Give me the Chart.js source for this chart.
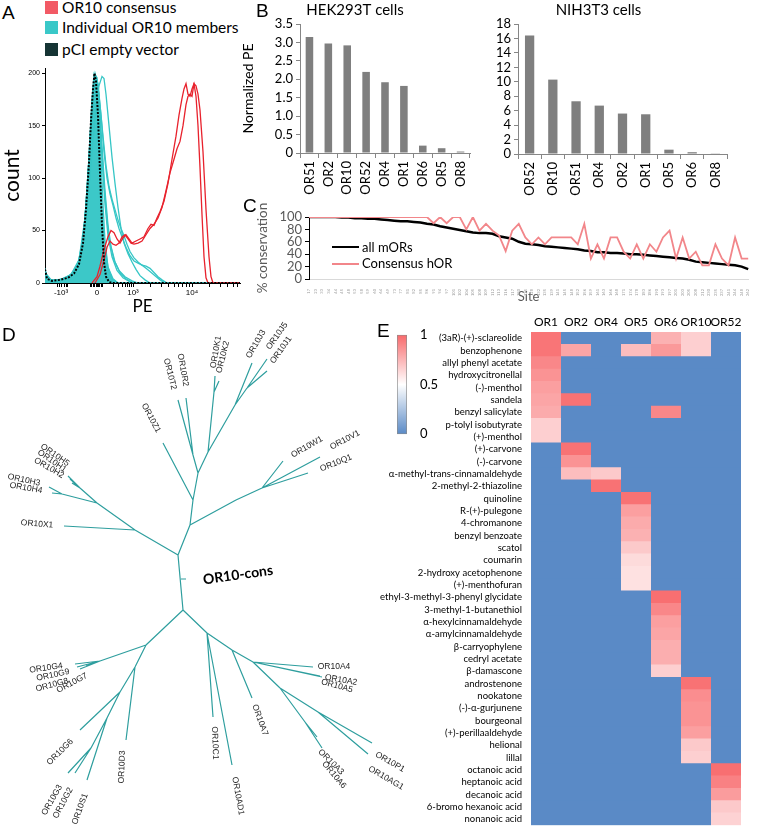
<!DOCTYPE html>
<html><head><meta charset="utf-8">
<script src="https://cdn.jsdelivr.net/npm/chart.js@4.4.1/dist/chart.umd.min.js"></script>
<style>
body{margin:0;background:#fff;}
#wrap{position:relative;width:757px;height:832px;overflow:hidden;font-family:Lato,sans-serif;color:#000;}
canvas{position:absolute;}
.pl{position:absolute;font-family:"Liberation Sans",Arial,sans-serif;font-size:19px;line-height:1;}
.lg{position:absolute;font-family:Lato,sans-serif;font-size:15.5px;line-height:1;white-space:nowrap;}
.sq{position:absolute;width:13px;height:13px;}
.lc{position:absolute;font-family:Lato,sans-serif;font-size:13px;line-height:1;white-space:nowrap;}
.ln{position:absolute;height:0;}
</style></head><body><div id="wrap">
<canvas id="cA" width="242" height="262" style="left:0;top:58px"></canvas>
<canvas id="cB1" width="270" height="205" style="left:240px;top:0"></canvas>
<canvas id="cB2" width="284" height="205" style="left:470px;top:0"></canvas>
<canvas id="cC" width="500" height="110" style="left:255px;top:195px"></canvas>
<canvas id="cD" width="490" height="522" style="left:0;top:310px"></canvas>
<canvas id="cE" width="377" height="522" style="left:380px;top:310px"></canvas>
<canvas id="cBar" width="55" height="125" style="left:385px;top:322px"></canvas>

<div class="pl" style="left:2px;top:3px">A</div>
<div class="pl" style="left:256px;top:1px">B</div>
<div class="pl" style="left:243px;top:196px">C</div>
<div class="pl" style="left:2px;top:325px">D</div>
<div class="pl" style="left:377px;top:321px">E</div>

<div class="sq" style="left:45px;top:1px;background:#F25A65"></div>
<div class="lg" style="left:62px;top:0px">OR10 consensus</div>
<div class="sq" style="left:45px;top:21px;background:#3AC8C8"></div>
<div class="lg" style="left:62px;top:20px">Individual OR10 members</div>
<div class="sq" style="left:45px;top:43px;background:#153434"></div>
<div class="lg" style="left:62px;top:42px">pCI empty vector</div>

<div class="ln" style="left:332px;top:246px;width:27px;border-top:2.5px solid #000"></div>
<div class="lc" style="left:362px;top:241px">all mORs</div>
<div class="ln" style="left:332px;top:263px;width:27px;border-top:2px solid #F2868A"></div>
<div class="lc" style="left:362px;top:257px">Consensus hOR</div>
</div>
<script>
// ================= Panel A : flow cytometry histograms =================
const peMajorTicks = [61, 97, 133, 192];
const peMajorLabels = ['-10³', '0', '10³', '10⁴'];
const peMinorTicks = [57,59,64,66,67.5,90,91.5,93,94.5,96,98,99.5,101,102.5,113,118,122,125,127.5,129.5,131,150.8,161.2,168.5,174.2,178.9,182.9,186.3,189.3,209.8,220.2,227.5,233.2,237.9];
const countTicks = [0,50,100,150,200];
const emptyVector = [[45,13],[47,4],[52,2],[60,3],[68,5],[74,9],[79,18],[83,38],[86,70],[89,115],[91,155],[93,185],[94.5,200],[96,192],[98,160],[100,105],[102,55],[104,20],[106,6],[109,1],[112,0],[240,0]];
const consensusRun1 = [[92,0],[97,6],[100,16],[104,32],[108,44],[111,50],[114,48],[117,42],[120,38],[123,43],[126,46],[129,42],[132,38],[136,40],[140,42],[144,44],[148,52],[151,56],[154,55],[157,62],[160,68],[164,78],[168,95],[172,118],[176,140],[179,160],[182,176],[184,185],[186,190],[188,180],[190,178],[192,185],[194,190],[196,178],[198,150],[200,110],[202,65],[204,25],[206,5],[208,0],[240,0]];
const consensusRun2 = [[95,0],[100,8],[104,22],[107,34],[110,40],[113,37],[116,36],[119,38],[122,44],[125,46],[128,42],[131,38],[134,37],[138,38],[142,40],[146,46],[150,52],[154,56],[158,62],[162,72],[166,88],[170,105],[174,118],[177,128],[180,135],[183,150],[186,170],[188,178],[190,180],[192,178],[194,190],[196,188],[198,180],[200,165],[203,125],[206,70],[209,25],[211,6],[213,0],[240,0]];
const member1 = [[45,14],[47,5],[52,2],[60,3],[66,5],[72,9],[77,15],[81,28],[84,50],[87,85],[90,135],[92,170],[94,195],[95,200],[97,192],[99,165],[101,120],[103,75],[105,40],[108,15],[112,4],[118,0],[240,0]];
const member2 = [[45,10],[48,3],[55,2],[65,4],[73,9],[79,20],[84,45],[88,80],[92,125],[96,168],[99,188],[102,197],[104,195],[106,180],[109,150],[112,120],[115,95],[118,72],[121,52],[124,38],[128,28],[132,20],[136,13],[140,7],[145,3],[150,0],[240,0]];
const member3 = [[45,8],[50,2],[60,3],[70,6],[78,16],[83,40],[87,80],[91,140],[94,185],[96,195],[98,190],[100,170],[103,140],[106,112],[109,92],[112,80],[115,70],[118,60],[121,52],[124,45],[127,37],[130,30],[134,24],[138,20],[142,17],[146,16],[150,14],[154,10],[158,6],[162,3],[167,0],[240,0]];
const member4 = [[45,9],[50,2],[60,3],[70,6],[78,17],[83,42],[87,85],[91,145],[94,188],[96,196],[98,188],[101,160],[104,125],[107,100],[110,85],[113,74],[116,62],[119,52],[122,44],[126,34],[130,26],[134,21],[138,19],[142,17],[146,14],[150,11],[155,7],[160,3],[165,0],[240,0]];
const member5 = [[45,11],[49,3],[58,2],[68,5],[76,12],[82,30],[86,65],[89,115],[92,165],[94,192],[96,196],[98,180],[101,140],[104,95],[107,60],[110,38],[114,22],[119,12],[125,6],[132,2],[138,0],[240,0]];
const member6 = [[45,12],[48,4],[56,2],[66,5],[74,10],[80,24],[85,60],[89,120],[92,175],[94,198],[96,190],[98,160],[100,115],[102,70],[105,35],[108,15],[113,4],[118,0],[240,0]];
const member7 = [[45,9],[50,3],[60,3],[70,7],[78,18],[84,48],[88,100],[91,155],[93,185],[95,197],[97,190],[99,168],[102,120],[105,75],[108,45],[112,25],[117,12],[123,5],[130,1],[135,0],[240,0]];
const member8 = [[45,10],[52,2],[62,4],[71,8],[79,22],[85,62],[89,118],[92,168],[95,198],[97,196],[99,178],[102,130],[105,88],[108,55],[111,35],[115,20],[120,10],[126,4],[133,0],[240,0]];

// ================= Panel B : normalized PE =================
const hekReceptors = ['OR51','OR2','OR10','OR52','OR4','OR1','OR6','OR5','OR8'];
const hekValues = [3.15,2.97,2.92,2.2,1.92,1.82,0.2,0.13,0.04];
const hekTicks = [0,0.5,1,1.5,2,2.5,3,3.5];
const nihReceptors = ['OR52','OR10','OR51','OR4','OR2','OR1','OR5','OR6','OR8'];
const nihValues = [16.4,10.3,7.3,6.7,5.6,5.5,0.6,0.25,0.1];
const nihTicks = [0,2,4,6,8,10,12,14,16,18];

// ================= Panel C : conservation per site =================
const siteLabels = [17,23,33,34,44,45,48,53,58,59,60,64,69,73,77,81,82,85,86,91,94,97,101,102,104,105,108,109,112,113,116,117,120,125,128,132,135,139,141,145,148,152,156,159,161,163,166,168,171,174,178,183,186,190,193,197,201,203,205,208,212,230,235,237,241,244,248,262];
const allMors = [100,100,100,100,100,99,99,98,98,97,97,96,95,94,93,93,92,91,89,88,85,83,81,79,77,75,74,74,73,69,67,65,60,57,56,55,53,52,51,50,49,48,46,45,43,43,42,42,41,40,40,39,38,37,36,35,34,33,31,28,27,26,25,24,23,22,20,16];
const consensusHor = [100,100,100,100,100,100,100,100,100,100,100,100,100,100,100,100,100,100,100,90,100,90,100,100,80,100,78,89,78,70,45,78,89,67,56,67,56,67,67,67,67,56,89,33,56,33,67,67,44,33,56,33,56,44,67,78,33,67,33,44,22,22,56,33,22,67,33,33];
const conservationTicks = [0,20,40,60,80,100];

// ================= Panel D : OR10 tree =================
const treeNodes = {
  root:[178,555], n1:[190,525], nW1:[236,500], nW2:[262,488],
  OR10W1:[283,461], OR10V1:[320,457], OR10Q1:[308,473],
  n2:[193,500], OR10Z1:[163,443], n3:[198,473], nTR:[193,455], OR10T2:[178,400], OR10R2:[186,398],
  nK:[208,452], nK2:[214,392], OR10K1:[215,376], OR10K2:[219,381],
  nJ:[235,405], OR10J3:[252,363], nJ2:[247,388], OR10J5:[267,359], OR10J1:[267,371],
  nX:[135,530], OR10X1:[64,526], nH:[97,503], nHa:[80,488], OR10H5:[68,476], OR10H1:[70,479], OR10H2:[72,483],
  nHb:[62,494], OR10H3:[49,487], OR10H4:[52,493],
  nLow:[183,610], consBase:[181,579], cons:[186,579],
  nG:[146,645], nGc:[100,661], OR10G4:[75,664], OR10G9:[77,667], OR10G8:[80,669], OR10G7:[86,666],
  nD:[135,667], OR10D3:[126,740], nG6:[120,692], OR10G6:[80,730], nGS:[107,718], OR10S1:[87,780],
  nG32:[91,748], OR10G3:[68,773], OR10G2:[75,773],
  nC:[207,633], OR10C1:[213,717], OR10AD1:[232,765], nA:[232,650], OR10A7:[252,698],
  nA4:[253,662], OR10A4:[313,667], OR10A2:[322,677], OR10A5:[320,676],
  nAx:[280,688], nA36:[305,722], OR10A3:[317,737], OR10A6:[322,748], nP:[318,712], OR10P1:[372,743], OR10AG1:[368,754]
};
const treeEdges = [
  ['root','n1'],['n1','nW1'],['nW1','nW2'],['nW2','OR10W1'],['nW2','OR10V1'],['nW2','OR10Q1'],
  ['n1','n2'],['n2','OR10Z1'],['n2','n3'],['n3','nTR'],['nTR','OR10T2'],['nTR','OR10R2'],
  ['n3','nK'],['nK','nK2'],['nK2','OR10K1'],['nK2','OR10K2'],['nK','nJ'],['nJ','OR10J3'],['nJ','nJ2'],['nJ2','OR10J5'],['nJ2','OR10J1'],
  ['root','nX'],['nX','OR10X1'],['nX','nH'],['nH','nHa'],['nHa','OR10H5'],['nHa','OR10H1'],['nHa','OR10H2'],['nH','nHb'],['nHb','OR10H3'],['nHb','OR10H4'],
  ['root','nLow'],['consBase','cons'],
  ['nLow','nG'],['nG','nGc'],['nGc','OR10G4'],['nGc','OR10G9'],['nGc','OR10G8'],['nGc','OR10G7'],
  ['nG','nD'],['nD','OR10D3'],['nD','nG6'],['nG6','OR10G6'],['nG6','nGS'],['nGS','OR10S1'],['nGS','nG32'],['nG32','OR10G3'],['nG32','OR10G2'],
  ['nLow','nC'],['nC','OR10C1'],['nC','OR10AD1'],['nC','nA'],['nA','OR10A7'],['nA','nA4'],['nA4','OR10A4'],['nA4','OR10A2'],['nA4','OR10A5'],
  ['nA4','nAx'],['nAx','nA36'],['nA36','OR10A3'],['nA36','OR10A6'],['nAx','nP'],['nP','OR10P1'],['nP','OR10AG1']
];
// label anchor (tree units) and rotation in degrees
const treeLabelLayout = [
  ['OR10K1',216,352,-80],['OR10K2',223,357,-76],['OR10R2',183,370,80],['OR10T2',170,374,76],['OR10Z1',151,418,62],
  ['OR10J3',256,344,-60],['OR10J5',277,336,-55],['OR10J1',281,350,-55],
  ['OR10W1',307,447,-30],['OR10V1',345,440,-28],['OR10Q1',336,463,-22],
  ['OR10H5',55,455,35],['OR10H1',52,461,35],['OR10H2',49,468,30],['OR10H3',24,480,12],['OR10H4',26,488,10],['OR10X1',37,524,5],
  ['OR10G4',46,668,-8],['OR10G9',53,675,-12],['OR10G8',52,685,-15],['OR10G7',72,683,-28],['OR10G6',60,752,-45],
  ['OR10G3',52,800,-60],['OR10G2',63,803,-62],['OR10S1',80,809,-70],['OR10D3',122,767,-88],
  ['OR10C1',215,743,88],['OR10AD1',238,796,80],['OR10A7',260,720,70],
  ['OR10A4',334,667,0],['OR10A2',341,680,10],['OR10A5',337,686,15],['OR10A3',331,762,45],['OR10A6',334,775,50],
  ['OR10P1',390,762,30],['OR10AG1',386,778,30]
];
const consLabel = ['OR10-cons',238,575,-8];

// ================= Panel E : odorant response heatmap =================
const receptors = ['OR1','OR2','OR4','OR5','OR6','OR10','OR52'];
const odorants = ['(3aR)-(+)-sclareolide','benzophenone','allyl phenyl acetate','hydroxycitronellal','(-)-menthol','sandela','benzyl salicylate','p-tolyl isobutyrate','(+)-menthol','(+)-carvone','(-)-carvone','α-methyl-trans-cinnamaldehyde','2-methyl-2-thiazoline','quinoline','R-(+)-pulegone','4-chromanone','benzyl benzoate','scatol','coumarin','2-hydroxy acetophenone','(+)-menthofuran','ethyl-3-methyl-3-phenyl glycidate','3-methyl-1-butanethiol','α-hexylcinnamaldehyde','α-amylcinnamaldehyde','β-carryophylene','cedryl acetate','β-damascone','androstenone','nookatone','(-)-α-gurjunene','bourgeonal','(+)-perillaaldehyde','helional','lillal','octanoic acid','heptanoic acid','decanoic acid','6-bromo hexanoic acid','nonanoic acid'];
// [odorant index, receptor index, normalized response]; all other cells are 0
const responses = [
  [0,0,0.96],[1,0,0.96],[2,0,0.9],[3,0,0.86],[4,0,0.82],[5,0,0.8],[6,0,0.78],[7,0,0.66],[8,0,0.66],
  [1,1,0.8],[5,1,0.97],[9,1,0.97],[10,1,0.86],[11,1,0.72],
  [11,2,0.68],[12,2,0.97],
  [1,3,0.72],[13,3,0.97],[14,3,0.82],[15,3,0.78],[16,3,0.76],[17,3,0.68],[18,3,0.62],[19,3,0.6],[20,3,0.6],
  [0,4,0.76],[1,4,0.84],[6,4,0.9],[21,4,0.98],[22,4,0.9],[23,4,0.82],[24,4,0.8],[25,4,0.77],[26,4,0.77],[27,4,0.66],
  [0,5,0.66],[1,5,0.66],[28,5,0.97],[29,5,0.88],[30,5,0.86],[31,5,0.86],[32,5,0.82],[33,5,0.68],[34,5,0.66],
  [35,6,0.98],[36,6,0.92],[37,6,0.83],[38,6,0.68],[39,6,0.65]
];
const colorbarTicks = [0,0.5,1];

// ======================================================================
Chart.defaults.font.family = 'Lato, sans-serif';
Chart.defaults.color = '#000';
Chart.defaults.animation = false;
Chart.defaults.responsive = false;
Chart.defaults.devicePixelRatio = 1;
Chart.defaults.plugins.legend.display = false;
Chart.defaults.plugins.tooltip.enabled = false;

const setTicks = list => scale => { scale.ticks = list.map(v => ({value: v})); };

// ---- A ----
const cyan = '#36C6C6';
const memberSets = [member1, member2, member3, member4, member5, member7, member8];
const dsA = [
  {data: emptyVector, borderColor:'#000', borderDash:[2,1.5], borderWidth:2},
  {data: consensusRun1, borderColor:'#E8222D', borderWidth:1.3},
  {data: consensusRun2, borderColor:'#E8222D', borderWidth:1.3},
  ...memberSets.map(d => ({data:d, borderColor:cyan, borderWidth:1.3})),
  {data: member6, borderColor:cyan, borderWidth:1.3, fill:'origin', backgroundColor:'#3CC8C8'}
].map(d => Object.assign({showLine:true, pointRadius:0, tension:0}, d));
new Chart(document.getElementById('cA'), {
  type:'scatter',
  data:{datasets: dsA},
  options:{
    layout:{padding:{top:10,right:2}},
    scales:{
      x:{type:'linear', min:45, max:240,
        afterBuildTicks: setTicks([...peMajorTicks, ...peMinorTicks].sort((a,b)=>a-b)),
        ticks:{autoSkip:false, maxRotation:0, font:{size:8, family:'"Liberation Sans", Arial'}, padding:1,
          callback:(v)=>{const i = peMajorTicks.indexOf(v); return i >= 0 ? peMajorLabels[i] : '';}},
        grid:{display:true, drawOnChartArea:false, tickLength:4, color:'#000'},
        border:{color:'#000'},
        title:{display:true, text:'PE', font:{size:17}, padding:{top:0,bottom:3}},
        afterFit:s=>{s.height = 37;}},
      y:{min:0, max:205, afterBuildTicks: setTicks(countTicks),
        ticks:{font:{size:7, family:'"Liberation Sans", Arial'}, padding:2, autoSkip:false},
        grid:{display:true, drawOnChartArea:false, tickLength:3, color:'#000'},
        border:{color:'#000'},
        title:{display:true, text:'count', font:{size:21}, padding:0},
        afterFit:s=>{s.width = 45;}}
    }
  }
});

// ---- B ----
function barPanel(id, title, cats, vals, ticks, max, yWidth, xHeight, padRight, yTitle, fmt){
  new Chart(document.getElementById(id), {
    type:'bar',
    data:{labels:cats, datasets:[{data:vals, backgroundColor:'#7F7F7F', barPercentage:0.4, categoryPercentage:1}]},
    options:{
      layout:{padding:{right:padRight}},
      plugins:{title:{display:true, text:title, font:{size:15, weight:'normal'}, padding:{top:1,bottom:5}, color:'#000'}},
      scales:{
        x:{ticks:{minRotation:90, maxRotation:90, font:{size:13}, padding:3, autoSkip:false},
          grid:{display:true, drawOnChartArea:false, tickLength:5, color:'#868686', offset:true},
          border:{color:'#868686'},
          afterFit:s=>{s.height = xHeight;}},
        y:{min:0, max:max, afterBuildTicks:setTicks(ticks),
          ticks:{font:{size:13}, padding:3, autoSkip:false, callback:fmt},
          grid:{display:true, drawOnChartArea:false, tickLength:4, color:'#868686'},
          border:{color:'#868686'},
          title:{display:!!yTitle, text:yTitle || '', font:{size:14}, padding:{top:0,bottom:2}},
          afterFit:s=>{s.width = yWidth;}}
      }
    }
  });
}
barPanel('cB1','HEK293T cells',hekReceptors,hekValues,hekTicks,3.5,60,52,40,'Normalized PE', v => v === 0 ? '0' : v.toFixed(1));
barPanel('cB2','NIH3T3 cells',nihReceptors,nihValues,nihTicks,18,48,51,27,'', v => String(v));

// ---- C ----
new Chart(document.getElementById('cC'), {
  type:'line',
  data:{labels:siteLabels, datasets:[
    {label:'Consensus hOR', data:consensusHor, borderColor:'#F2868A', borderWidth:1.8, pointRadius:0, tension:0},
    {label:'all mORs', data:allMors, borderColor:'#000', borderWidth:2.5, pointRadius:0, tension:0}
  ]},
  options:{
    layout:{padding:{top:22, right:5}},
    scales:{
      x:{offset:false, ticks:{font:{size:4}, color:'#9a9a9a', minRotation:90, maxRotation:90, autoSkip:false, padding:2},
        grid:{display:false}, border:{color:'#d9d9d9'},
        title:{display:true, text:'Site', font:{size:13}, color:'#595959', padding:{top:0,bottom:0}},
        afterFit:s=>{s.height = 26;}},
      y:{min:0, max:100, afterBuildTicks:setTicks(conservationTicks),
        ticks:{font:{size:13}, color:'#595959', padding:3, autoSkip:false},
        grid:{display:true, drawOnChartArea:false, tickLength:4, color:'#000'},
        border:{color:'#000'},
        title:{display:true, text:'% conservation', font:{size:13.5}, color:'#595959', padding:0},
        afterFit:s=>{s.width = 54;}}
    }
  }
});

// ---- D ----
const treeData = [];
treeEdges.forEach(([a,b]) => {
  const p = treeNodes[a], c = treeNodes[b];
  treeData.push({x:p[0], y:p[1]}, {x:c[0], y:c[1]}, {x:c[0], y:null});
});
const treeLabelPlugin = {
  id:'treeLabels',
  afterDatasetsDraw(chart){
    const {ctx, scales:{x, y}} = chart;
    const draw = (txt, lx, ly, rot, font, color) => {
      ctx.save();
      ctx.translate(x.getPixelForValue(lx), y.getPixelForValue(ly));
      ctx.rotate(rot * Math.PI / 180);
      ctx.font = font; ctx.fillStyle = color;
      ctx.textAlign = 'center'; ctx.textBaseline = 'middle';
      ctx.fillText(txt, 0, 0);
      ctx.restore();
    };
    treeLabelLayout.forEach(([t, lx, ly, r]) => draw(t, lx, ly, r, '8.5px "Liberation Sans", Arial', '#222'));
    draw(consLabel[0], consLabel[1], consLabel[2], consLabel[3], 'bold 14px Lato', '#000');
  }
};
new Chart(document.getElementById('cD'), {
  type:'scatter',
  data:{datasets:[{data:treeData, showLine:true, spanGaps:false, borderColor:'#2E9E9E', borderWidth:1.2, pointRadius:0}]},
  options:{
    layout:{padding:0},
    scales:{x:{display:false, min:0, max:490}, y:{display:false, min:310, max:832, reverse:true}}
  },
  plugins:[treeLabelPlugin]
});

// ---- E ----
const blue = [90,138,198], white = [255,255,255], red = [248,105,107];
const mix = (a,b,t) => a.map((v,i)=>Math.round(v + (b[i]-v)*t));
const cellColor = v => {
  const c = v < 0.5 ? mix(blue, white, v/0.5) : mix(white, red, (v-0.5)/0.5);
  return `rgb(${c[0]},${c[1]},${c[2]})`;
};
const valueAt = (r, c) => { const f = responses.find(e => e[0] === r && e[1] === c); return f ? f[2] : 0; };
new Chart(document.getElementById('cE'), {
  type:'bar',
  data:{labels:odorants, datasets: receptors.map((rc, c) => ({
    label:rc, data: odorants.map(() => 1),
    backgroundColor: odorants.map((_, r) => cellColor(valueAt(r, c))),
    borderWidth:0, barPercentage:1.06, categoryPercentage:1
  }))},
  options:{
    indexAxis:'y',
    layout:{padding:{right:16, bottom:2}},
    scales:{
      x:{stacked:true, min:0, max:7, position:'top',
        afterBuildTicks: setTicks(receptors.map((_, i) => i + 0.5)),
        ticks:{autoSkip:false, maxRotation:0, font:{size:12}, padding:3, callback:(v, i) => receptors[i]},
        grid:{display:false, drawTicks:false}, border:{display:false},
        afterFit:s=>{s.height = 22;}},
      y:{stacked:true, ticks:{autoSkip:false, font:{size:9.5}, padding:1},
        grid:{display:false}, border:{display:false},
        afterFit:s=>{s.width = 151;}}
    }
  }
});

// ---- E colour bar ----
new Chart(document.getElementById('cBar'), {
  type:'bar',
  data:{labels:[''], datasets:[{data:[1], barPercentage:1, categoryPercentage:1, borderColor:'#8c8c8c', borderWidth:1, borderSkipped:false,
    backgroundColor: ctx => {
      const a = ctx.chart.chartArea; if (!a) return '#fff';
      const g = ctx.chart.ctx.createLinearGradient(0, a.bottom, 0, a.top);
      g.addColorStop(0, cellColor(0)); g.addColorStop(0.5, cellColor(0.5)); g.addColorStop(1, cellColor(1));
      return g;
    }}]},
  options:{
    layout:{padding:{left:12, top:10, bottom:10}},
    scales:{
      x:{display:false},
      y:{position:'right', min:0, max:1, afterBuildTicks:setTicks(colorbarTicks),
        ticks:{font:{size:13}, padding:5, callback:v=>String(v)},
        grid:{display:false}, border:{display:false},
        afterFit:s=>{s.width = 33;}}
    }
  }
});
</script>
</body></html>
